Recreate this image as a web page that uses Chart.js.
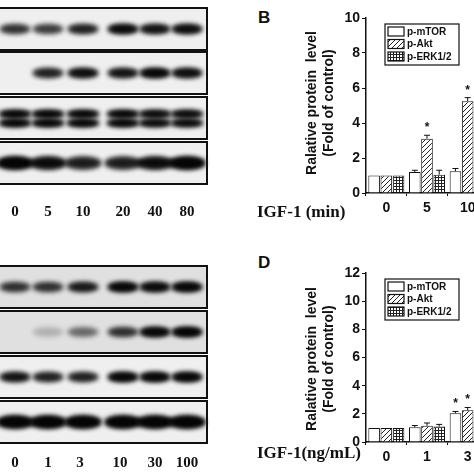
<!DOCTYPE html>
<html><head><meta charset="utf-8">
<script src="https://cdn.jsdelivr.net/npm/chart.js@4"></script>
<style>
html,body{margin:0;padding:0;width:474px;height:474px;overflow:hidden;background:#fff;position:relative}
.abs{position:absolute}
.lbl{font-family:"Liberation Sans",Arial,sans-serif;font-weight:bold;color:#111}
.ser{font-family:"Liberation Serif","Times New Roman",serif;font-weight:bold;color:#111}
.ytitle{font-family:"Liberation Sans",Arial,sans-serif;font-weight:bold;font-size:14px;transform:rotate(-90deg);transform-origin:center;text-align:center;line-height:17px;white-space:nowrap;width:200px;color:#111}
</style></head><body>
<canvas id="blots" class="abs" width="240" height="474" style="left:0;top:0"></canvas>
<div class="abs" style="left:330px;top:0;width:280px;height:240px"><canvas id="cB"></canvas></div>
<div class="abs" style="left:330px;top:250px;width:280px;height:224px"><canvas id="cD"></canvas></div>
<div class="abs lbl" style="left:258px;top:8px;font-size:17px">B</div>
<div class="abs lbl" style="left:258px;top:253px;font-size:17px">D</div>
<div class="abs ytitle" style="left:220px;top:86px">Ralative protein&nbsp; level<br>(Fold of control)</div>
<div class="abs ytitle" style="left:220px;top:342px">Ralative protein&nbsp; level<br>(Fold of control)</div>
<div class="abs ser" style="left:257px;top:202px;font-size:17px">IGF-1 (min)</div>
<div class="abs ser" style="left:257px;top:443px;font-size:17px">IGF-1(ng/mL)</div>
<script>
// ---- data ----
const seriesNames = ["p-mTOR","p-Akt","p-ERK1/2"];
const catsB = ["0","5","10","20","40","80"];
const mtorB = [1,1.2,1.25,1.4,1.3,1.2];
const aktB  = [1,3.1,5.25,4.5,3.6,3.0];
const erkB  = [1,1.05,2.5,3.0,2.5,2.0];
const mtorBErr=[0,0.1,0.15,0.15,0.15,0.1];
const aktBErr=[0,0.2,0.2,0.3,0.3,0.2];
const erkBErr=[0,0.25,0.2,0.3,0.2,0.2];
const starsB=[[0,0,0,0,0,0],[0,1,1,1,1,1],[0,0,1,1,1,1]];
const catsD = ["0","1","3","10","30","100"];
const mtorD = [1,1.05,2.05,2.6,3.0,3.4];
const aktD  = [1,1.15,2.25,4.2,7.0,9.0];
const erkD  = [1,1.1,1.2,1.5,2.0,2.4];
const mtorDErr=[0,0.12,0.12,0.2,0.2,0.2];
const aktDErr=[0,0.2,0.2,0.3,0.4,0.4];
const erkDErr=[0,0.15,0.15,0.2,0.2,0.2];
const starsD=[[0,0,1,1,1,1],[0,0,1,1,1,1],[0,0,0,1,1,1]];
const blotLanesB = ["0","5","10","20","40","80"];
const blotLanesD = ["0","1","3","10","30","100"];

// ---- blots (decorative western blot imagery) ----
(function(){
  const c=document.getElementById('blots').getContext('2d');
  const lanesX=[15,48,83,123,155,187];
  const rowsTop=[[8,52,97,142],[266,311,356,401]];
  const intens=[
    [[.6,.55,.7,.9,.8,.85],[0,.7,.85,.8,.95,.85],[1,1,1,1,.95,.95],[1,.85,.7,.7,.85,1]],
    [[.6,.6,.75,.95,.9,.95],[0,.12,.35,.6,.95,1],[.8,.7,.7,.95,.95,.95],[1,1,1,1,1,1]]
  ];
  rowsTop.forEach((rows,p)=>{
    rows.forEach((y,r)=>{
      c.fillStyle=(p==1&&r<2)?'#e0e0e0':'#efefef';
      c.fillRect(0,y,207,42);
      c.save();c.filter='blur(2.5px)';
      lanesX.forEach((x,i)=>{
        const a=intens[p][r][i]; if(!a)return;
        c.fillStyle='rgba(5,5,5,'+a+')';
        for(let k=0;k<2;k++){
        if(p==0&&r==2){c.beginPath();c.ellipse(x,y+17,16,3.5,0,0,7);c.fill();c.beginPath();c.ellipse(x,y+26,16,3.5,0,0,7);c.fill();}
        else{c.beginPath();c.ellipse(x,y+21,r==3?18:15,r==3?6:4.5,0,0,7);c.fill();}
        }
      });
      c.restore();
      c.strokeStyle='#111';c.lineWidth=2;c.strokeRect(-2,y,209,42);
    });
  });
  c.fillStyle='#111';c.font='bold 15px "Liberation Serif",serif';c.textAlign='center';c.textBaseline='middle';
  blotLanesB.forEach((t,i)=>c.fillText(t,lanesX[i],212));
  blotLanesD.forEach((t,i)=>c.fillText(t,[15,48,80,120,155,187][i],463));
})();

// ---- patterns ----
function hatch(){const p=document.createElement('canvas');p.width=5;p.height=5;const g=p.getContext('2d');
  g.fillStyle='#fff';g.fillRect(0,0,5,5);g.strokeStyle='#222';g.lineWidth=1;
  g.beginPath();g.moveTo(0,5);g.lineTo(5,0);g.moveTo(-1,1);g.lineTo(1,-1);g.moveTo(4,6);g.lineTo(6,4);g.stroke();
  return g.createPattern(p,'repeat');}
function grid(){const p=document.createElement('canvas');p.width=3;p.height=3;const g=p.getContext('2d');
  g.fillStyle='#fff';g.fillRect(0,0,3,3);g.fillStyle='#222';g.fillRect(0,0,3,1);g.fillRect(0,0,1,3);
  return g.createPattern(p,'repeat');}
const fills=['#fff',hatch(),grid()];

const F='"Liberation Sans",Arial,sans-serif';
function makeChart(id,cats,vals,errs,stars,ymax,yStep,botY,h){
  const extras={
    id:'extras',
    afterDatasetsDraw(ch){
      const c=ch.ctx,y=ch.scales.y;
      c.save();c.strokeStyle='#111';c.lineWidth=1;c.fillStyle='#111';
      c.font='bold 12px '+F;c.textAlign='center';
      ch.data.datasets.forEach((ds,di)=>{
        ch.getDatasetMeta(di).data.forEach((b,i)=>{
          const e=errs[di][i],v=vals[di][i];
          const top=y.getPixelForValue(v+e);
          if(e>0){c.beginPath();c.moveTo(b.x,b.y);c.lineTo(b.x,top);c.moveTo(b.x-3,top);c.lineTo(b.x+3,top);c.stroke();}
          if(stars[di][i])c.fillText('*',b.x,top-4);
        });
      });
      const lx=ch.chartArea.left+19,ly=ch.chartArea.top+6;
      c.lineWidth=1.2;c.strokeRect(lx,ly,74,41);
      c.font='bold 10px '+F;c.textAlign='left';c.textBaseline='middle';
      seriesNames.forEach((n,k)=>{
        const yy=ly+3+k*12.5;
        c.fillStyle=fills[k];c.fillRect(lx+3,yy,16,9);c.strokeRect(lx+3,yy,16,9);
        c.fillStyle='#111';c.fillText(n,lx+22,yy+5);
      });
      c.restore();
    }
  };
  return new Chart(document.getElementById(id),{
    type:'bar',
    data:{labels:cats,datasets:vals.map((v,k)=>({label:seriesNames[k],data:v,backgroundColor:fills[k],borderColor:'#111',borderWidth:1}))},
    options:{responsive:false,animation:false,devicePixelRatio:1,
      layout:{padding:{top:ymax==10?18:23,right:0,left:0,bottom:0}},
      plugins:{legend:{display:false},tooltip:{enabled:false}},
      datasets:{bar:{categoryPercentage:0.9,barPercentage:0.95}},
      scales:{
        x:{grid:{display:true,drawOnChartArea:false,color:'#111',tickLength:3,offset:true},border:{color:'#111',width:1.5},
           ticks:{color:'#111',font:{family:F,weight:'bold',size:14},padding:4},
           afterFit(s){s.height=h-botY;}},
        y:{min:0,max:ymax,grid:{drawOnChartArea:false,color:'#111',tickLength:4},border:{color:'#111',width:1.5},
           ticks:{stepSize:yStep,color:'#111',font:{family:F,weight:'bold',size:14},padding:2},
           afterFit(s){s.width=36;}}
      }},
    plugins:[extras]
  });
}
const cB=document.getElementById('cB');cB.width=280;cB.height=240;
const cD=document.getElementById('cD');cD.width=280;cD.height=224;
makeChart('cB',catsB,[mtorB,aktB,erkB],[mtorBErr,aktBErr,erkBErr],starsB,10,2,193,240);
makeChart('cD',catsD,[mtorD,aktD,erkD],[mtorDErr,aktDErr,erkDErr],starsD,12,2,192,224);
</script>
</body></html>
